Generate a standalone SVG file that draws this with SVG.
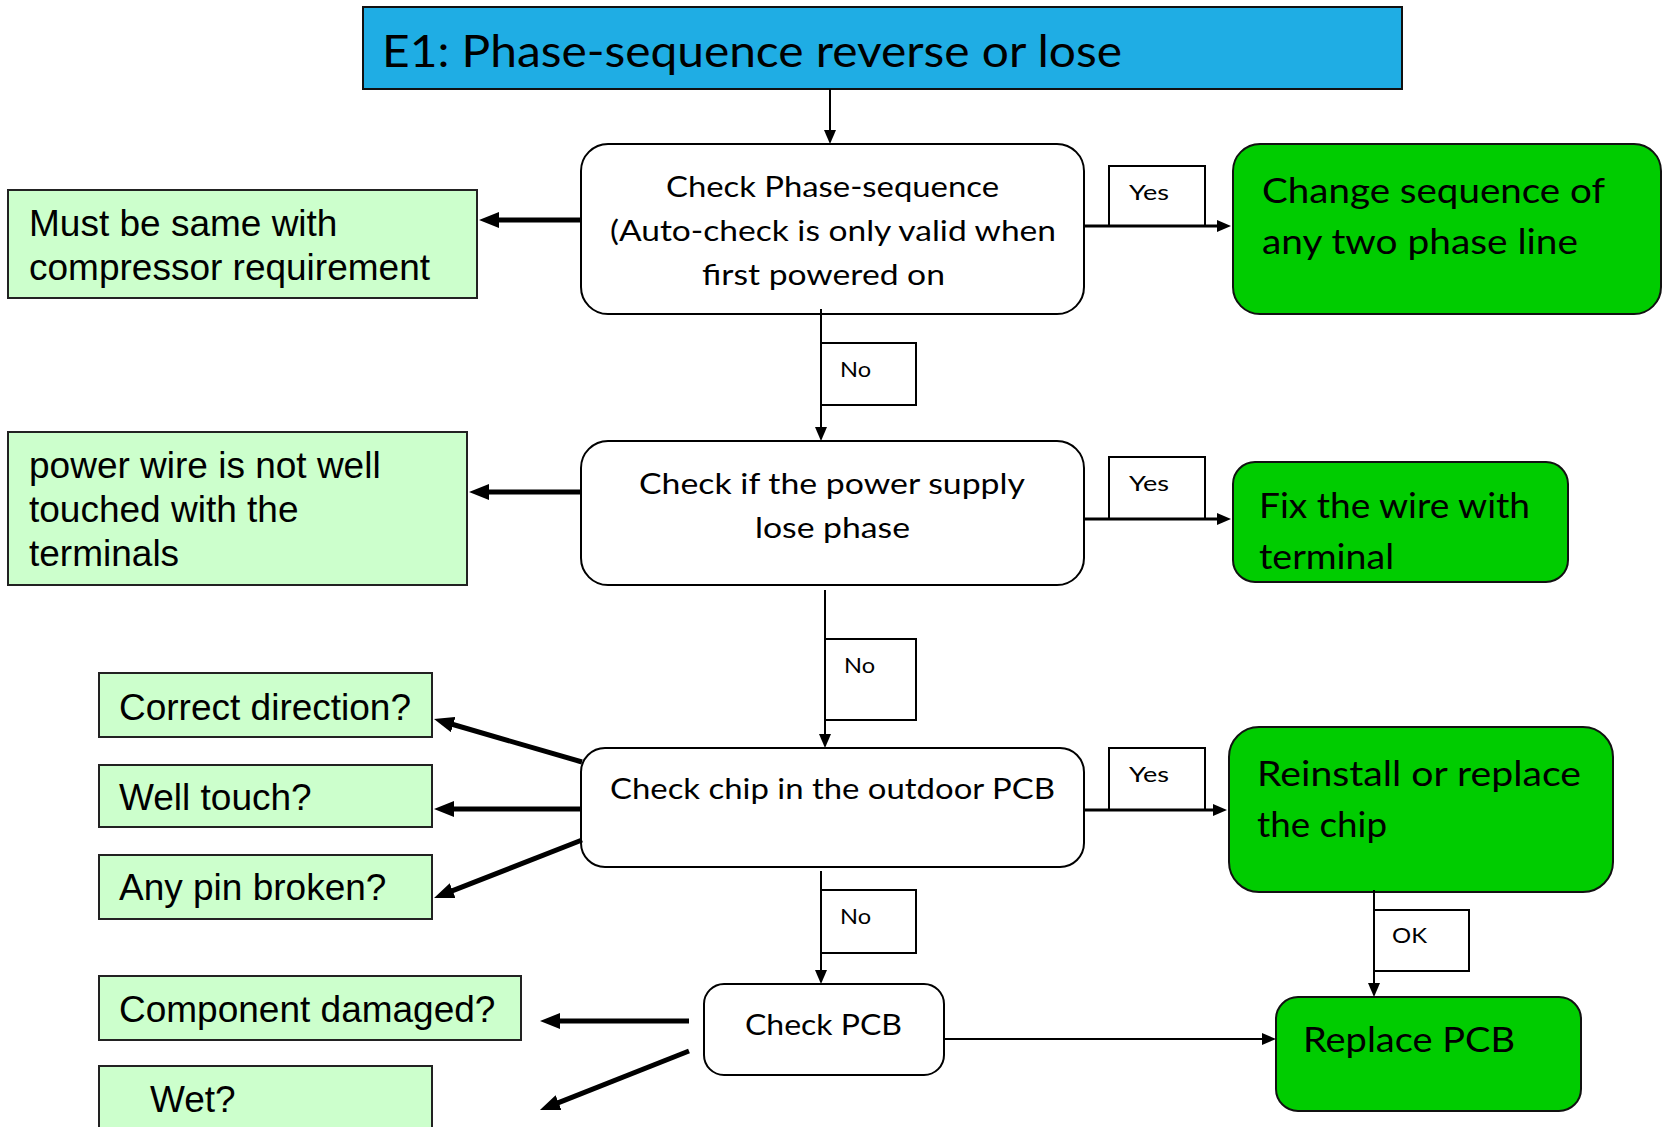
<svg xmlns="http://www.w3.org/2000/svg" width="1665" height="1127" viewBox="0 0 1665 1127">
<style>
.fut{font-family:Lato,"Open Sans","DejaVu Sans",sans-serif;fill:#000}
.ar{font-family:"Liberation Sans",Arial,sans-serif;fill:#000;font-size:37px}
.wbox{fill:#fff;stroke:#000;stroke-width:2}
.gbox{fill:#00CC00;stroke:#111;stroke-width:2}
.lbox{fill:#CCFFCC;stroke:#222;stroke-width:2}
.lab{fill:#fff;stroke:#000;stroke-width:2}
.thin{stroke:#000;stroke-width:2;fill:none;marker-end:url(#ah)}
.mid{stroke:#000;stroke-width:3;fill:none;marker-end:url(#ah)}
.thick{stroke:#000;stroke-width:5;fill:none;marker-end:url(#ahk)}
</style>
<defs>
<marker id="ah" viewBox="0 0 14 12" refX="1" refY="6" markerWidth="14" markerHeight="12" markerUnits="userSpaceOnUse" orient="auto"><path d="M0,0 L14,6 L0,12 z" fill="#000"/></marker>
<marker id="ahk" viewBox="0 0 20 16" refX="2" refY="8" markerWidth="20" markerHeight="16" markerUnits="userSpaceOnUse" orient="auto"><path d="M0,0 L20,8 L0,16 z" fill="#000"/></marker>
</defs>
<rect width="1665" height="1127" fill="#fff"/>

<g id="title">
<rect x="363" y="7" width="1039" height="82" fill="#1FADE4" stroke="#111" stroke-width="2"/>
<text class="fut" x="382" y="67" font-size="45" textLength="740" lengthAdjust="spacingAndGlyphs">E1: Phase-sequence reverse or lose</text>
</g>

<g id="check-phase">
<rect class="wbox" x="581" y="144" width="503" height="170" rx="27"/>
<text class="fut" font-size="29" x="666" y="197" textLength="333" lengthAdjust="spacingAndGlyphs">Check Phase-sequence</text>
<text class="fut" font-size="29" x="610" y="241" textLength="446" lengthAdjust="spacingAndGlyphs">(Auto-check is only valid when</text>
<text class="fut" font-size="29" x="702" y="285" textLength="243" lengthAdjust="spacingAndGlyphs">first powered on</text>
</g>

<g id="must-same">
<rect class="lbox" x="8" y="190" width="469" height="108"/>
<text class="ar" x="29" y="236">Must be same with</text>
<text class="ar" x="29" y="280">compressor requirement</text>
</g>

<g id="change-seq">
<rect class="gbox" x="1233" y="144" width="428" height="170" rx="27"/>
<text class="fut" font-size="35" x="1262" y="203" textLength="343" lengthAdjust="spacingAndGlyphs">Change sequence of</text>
<text class="fut" font-size="35" x="1262" y="254" textLength="316" lengthAdjust="spacingAndGlyphs">any two phase line</text>
</g>

<g id="check-power">
<rect class="wbox" x="581" y="441" width="503" height="144" rx="27"/>
<text class="fut" font-size="29" x="639" y="494" textLength="386" lengthAdjust="spacingAndGlyphs">Check if the power supply</text>
<text class="fut" font-size="29" x="755" y="538" textLength="155" lengthAdjust="spacingAndGlyphs">lose phase</text>
</g>

<g id="power-wire">
<rect class="lbox" x="8" y="432" width="459" height="153"/>
<text class="ar" x="29" y="478">power wire is not well</text>
<text class="ar" x="29" y="522">touched with the</text>
<text class="ar" x="29" y="566">terminals</text>
</g>

<g id="fix-wire">
<rect class="gbox" x="1233" y="462" width="335" height="120" rx="22"/>
<text class="fut" font-size="35" x="1259" y="518" textLength="271" lengthAdjust="spacingAndGlyphs">Fix the wire with</text>
<text class="fut" font-size="35" x="1259" y="569" textLength="135" lengthAdjust="spacingAndGlyphs">terminal</text>
</g>

<g id="check-chip">
<rect class="wbox" x="581" y="748" width="503" height="119" rx="24"/>
<text class="fut" font-size="29" x="610" y="799" textLength="445" lengthAdjust="spacingAndGlyphs">Check chip in the outdoor PCB</text>
</g>

<g id="reinstall">
<rect class="gbox" x="1229" y="727" width="384" height="165" rx="30"/>
<text class="fut" font-size="35" x="1257" y="786" textLength="324" lengthAdjust="spacingAndGlyphs">Reinstall or replace</text>
<text class="fut" font-size="35" x="1257" y="837" textLength="130" lengthAdjust="spacingAndGlyphs">the chip</text>
</g>

<g id="correct-dir">
<rect class="lbox" x="99" y="673" width="333" height="64"/>
<text class="ar" x="119" y="720">Correct direction?</text>
</g>
<g id="well-touch">
<rect class="lbox" x="99" y="765" width="333" height="62"/>
<text class="ar" x="119" y="810">Well touch?</text>
</g>
<g id="pin-broken">
<rect class="lbox" x="99" y="855" width="333" height="64"/>
<text class="ar" x="119" y="900">Any pin broken?</text>
</g>

<g id="check-pcb">
<rect class="wbox" x="704" y="984" width="240" height="91" rx="20"/>
<text class="fut" font-size="29" x="745" y="1035" textLength="157" lengthAdjust="spacingAndGlyphs">Check PCB</text>
</g>

<g id="replace-pcb">
<rect class="gbox" x="1276" y="997" width="305" height="114" rx="22"/>
<text class="fut" font-size="35" x="1303" y="1052" textLength="212" lengthAdjust="spacingAndGlyphs">Replace PCB</text>
</g>

<g id="component-damaged">
<rect class="lbox" x="99" y="976" width="422" height="64"/>
<text class="ar" x="119" y="1022">Component damaged?</text>
</g>
<g id="wet">
<rect class="lbox" x="99" y="1066" width="333" height="80"/>
<text class="ar" x="150" y="1112">Wet?</text>
</g>

<g id="labels">
<rect class="lab" x="1109" y="166" width="96" height="60"/>
<text class="fut" font-size="22" x="1129" y="200" textLength="40" lengthAdjust="spacingAndGlyphs">Yes</text>
<rect class="lab" x="1109" y="457" width="96" height="62"/>
<text class="fut" font-size="22" x="1129" y="491" textLength="40" lengthAdjust="spacingAndGlyphs">Yes</text>
<rect class="lab" x="1109" y="748" width="96" height="62"/>
<text class="fut" font-size="22" x="1129" y="782" textLength="40" lengthAdjust="spacingAndGlyphs">Yes</text>
<rect class="lab" x="821" y="343" width="95" height="62"/>
<text class="fut" font-size="22" x="840" y="377" textLength="31" lengthAdjust="spacingAndGlyphs">No</text>
<rect class="lab" x="825" y="639" width="91" height="81"/>
<text class="fut" font-size="22" x="844" y="673" textLength="31" lengthAdjust="spacingAndGlyphs">No</text>
<rect class="lab" x="821" y="890" width="95" height="63"/>
<text class="fut" font-size="22" x="840" y="924" textLength="31" lengthAdjust="spacingAndGlyphs">No</text>
<rect class="lab" x="1374" y="910" width="95" height="61"/>
<text class="fut" font-size="22" x="1392" y="943" textLength="35" lengthAdjust="spacingAndGlyphs">OK</text>
</g>

<g id="connectors">
<line class="thin" x1="830" y1="89" x2="830" y2="131"/>
<line class="thick" x1="581" y1="220" x2="497" y2="220"/>
<line class="mid" x1="1084" y1="226" x2="1218" y2="226"/>
<line class="thin" x1="821" y1="309" x2="821" y2="428"/>
<line class="thick" x1="581" y1="492" x2="487" y2="492"/>
<line class="mid" x1="1084" y1="519" x2="1218" y2="519"/>
<line class="thin" x1="825" y1="590" x2="825" y2="735"/>
<line class="mid" x1="1084" y1="810" x2="1214" y2="810"/>
<line class="thick" x1="582" y1="762" x2="451.3" y2="724"/>
<line class="thick" x1="582" y1="809" x2="452" y2="809"/>
<line class="thick" x1="582" y1="840" x2="450.8" y2="891.4"/>
<line class="thin" x1="821" y1="871" x2="821" y2="971"/>
<line class="thin" x1="944" y1="1039" x2="1263" y2="1039"/>
<line class="thin" x1="1374" y1="890" x2="1374" y2="984"/>
<line class="thick" x1="689" y1="1021" x2="558" y2="1021"/>
<line class="thick" x1="689" y1="1051" x2="556.7" y2="1103.4"/>
</g>
</svg>
